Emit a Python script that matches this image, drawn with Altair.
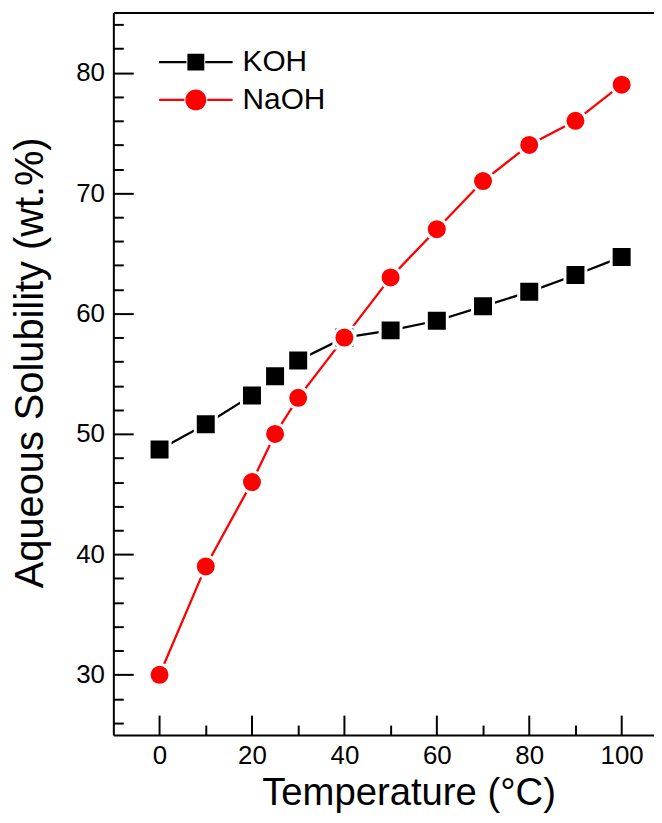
import altair as alt
import pandas as pd

# ---- data ----
temps = [0, 10, 20, 25, 30, 40, 50, 60, 70, 80, 90, 100]
koh = [48.7, 50.8, 53.2, 54.8, 56.1, 58.0, 58.6, 59.4, 60.6, 61.8, 63.2, 64.7]
naoh = [30.0, 39.0, 46.0, 50.0, 53.0, 58.0, 63.0, 67.0, 71.0, 74.0, 76.0, 79.0]
series_names = ["KOH", "NaOH"]

x_major = [0, 20, 40, 60, 80, 100]
x_minor = [10, 30, 50, 70, 90]
y_major = [30, 40, 50, 60, 70, 80]
y_minor = [26, 28, 32, 34, 36, 38, 42, 44, 46, 48, 52, 54, 56, 58,
           62, 64, 66, 68, 72, 74, 76, 78, 82, 84]

rows = []
for name, vals in zip(series_names, [koh, naoh]):
    for t, v in zip(temps, vals):
        rows.append({"series": name, "temp": t, "value": v})
df = pd.DataFrame(rows)

# ---- styling ----
F = "Liberation Sans"
colors = ["#000000", "#ff0000"]
xs = alt.Scale(domain=[-10, 107], nice=False, zero=False)
ys = alt.Scale(domain=[25, 85], nice=False, zero=False)
cs = alt.Scale(domain=series_names, range=colors)

# legend symbols: line + marker drawn as filled custom paths
leg_square = ("M-3.7,-0.12H-0.95V0.12H-3.7Z M0.95,-0.12H3.7V0.12H0.95Z "
              "M-0.85,-0.85H0.85V0.85H-0.85Z")
leg_circle = ("M-3.7,-0.11H-1.15V0.11H-3.7Z M1.15,-0.11H3.7V0.11H1.15Z "
              "M-1.05,0A1.05,1.05,0,1,1,1.05,0A1.05,1.05,0,1,1,-1.05,0Z")

x_main = alt.Axis(values=x_major, orient="bottom", domain=True, domainColor="black",
                  domainWidth=2, ticks=False, tickSize=0, grid=False,
                  labelFont=F, labelFontSize=26, labelColor="black", labelPadding=8,
                  labelFlush=False, labelOverlap=False,
                  title="Temperature (°C)", titleFont=F, titleFontSize=38.5,
                  titleFontWeight="normal", titleColor="black", titleX=297,
                  titleY=69.5, titleAlign="center", titleBaseline="alphabetic")
y_main = alt.Axis(values=y_major, orient="left", domain=True, domainColor="black",
                  domainWidth=2, ticks=False, tickSize=0, grid=False,
                  labelFont=F, labelFontSize=26, labelColor="black", labelPadding=9,
                  labelFlush=False, labelOverlap=False,
                  title="Aqueous Solubility (wt.%)", titleFont=F, titleFontSize=40,
                  titleFontWeight="normal", titleColor="black", titleAngle=270,
                  titleX=-71, titleY=352, titleAlign="center",
                  titleBaseline="alphabetic")

def tick_axis(vals, orient, size):
    return alt.Axis(values=vals, orient=orient, offset=-size, domain=False,
                    ticks=True, tickSize=size, tickWidth=2, tickColor="black",
                    labels=False, grid=False, title=None)

lines = alt.Chart(df).mark_line(strokeWidth=2.3).encode(
    x=alt.X("temp:Q", scale=xs, axis=x_main),
    y=alt.Y("value:Q", scale=ys, axis=y_main),
    color=alt.Color("series:N", scale=cs, legend=None),
)

points = alt.Chart(df).mark_point(filled=True, opacity=1, size=445,
                                  stroke="white", strokeWidth=3).encode(
    x=alt.X("temp:Q", scale=xs, axis=tick_axis(x_major, "bottom", 20)),
    y=alt.Y("value:Q", scale=ys, axis=tick_axis(y_major, "left", 20)),
    color=alt.Color("series:N", scale=cs, legend=None),
    shape=alt.Shape("series:N", scale=alt.Scale(domain=series_names,
                                                range=["square", "circle"]),
                    legend=None),
)

minor = alt.Chart(df).transform_filter("false").mark_point(opacity=0).encode(
    x=alt.X("temp:Q", scale=xs, axis=tick_axis(x_minor, "bottom", 10)),
    y=alt.Y("value:Q", scale=ys, axis=tick_axis(y_minor, "left", 10)),
)

leg_props = dict(orient="none", legendX=68, legendY=35, title=None,
                 labelFont=F, labelFontSize=30, labelColor="black",
                 labelOffset=32, labelLimit=300, symbolSize=400,
                 symbolStrokeWidth=0, rowPadding=8, padding=0)

legend_layer = alt.Chart(df).transform_filter("false").mark_point(
    filled=True, opacity=1).encode(
    x=alt.X("temp:Q", scale=xs,
            axis=alt.Axis(orient="top", domain=True, domainColor="black",
                          domainWidth=2, ticks=False, labels=False, grid=False,
                          title=None)),
    y=alt.Y("value:Q", scale=ys, axis=None),
    color=alt.Color("series:N", scale=cs, legend=alt.Legend(**leg_props)),
    shape=alt.Shape("series:N",
                    scale=alt.Scale(domain=series_names, range=[leg_square, leg_circle]),
                    legend=alt.Legend(**leg_props)),
)

chart = alt.layer(lines, points, minor, legend_layer).resolve_axis(
    x="independent", y="independent"
).resolve_scale(
    color="independent", shape="independent"
).properties(
    width=544, height=727,
    autosize=alt.AutoSizeParams(type="none"),
    padding={"left": 106, "top": 2, "right": 0, "bottom": 78},
    background="white",
).configure_view(stroke=None)

chart.save("out.html", embed_options={"renderer": "svg", "actions": False})
